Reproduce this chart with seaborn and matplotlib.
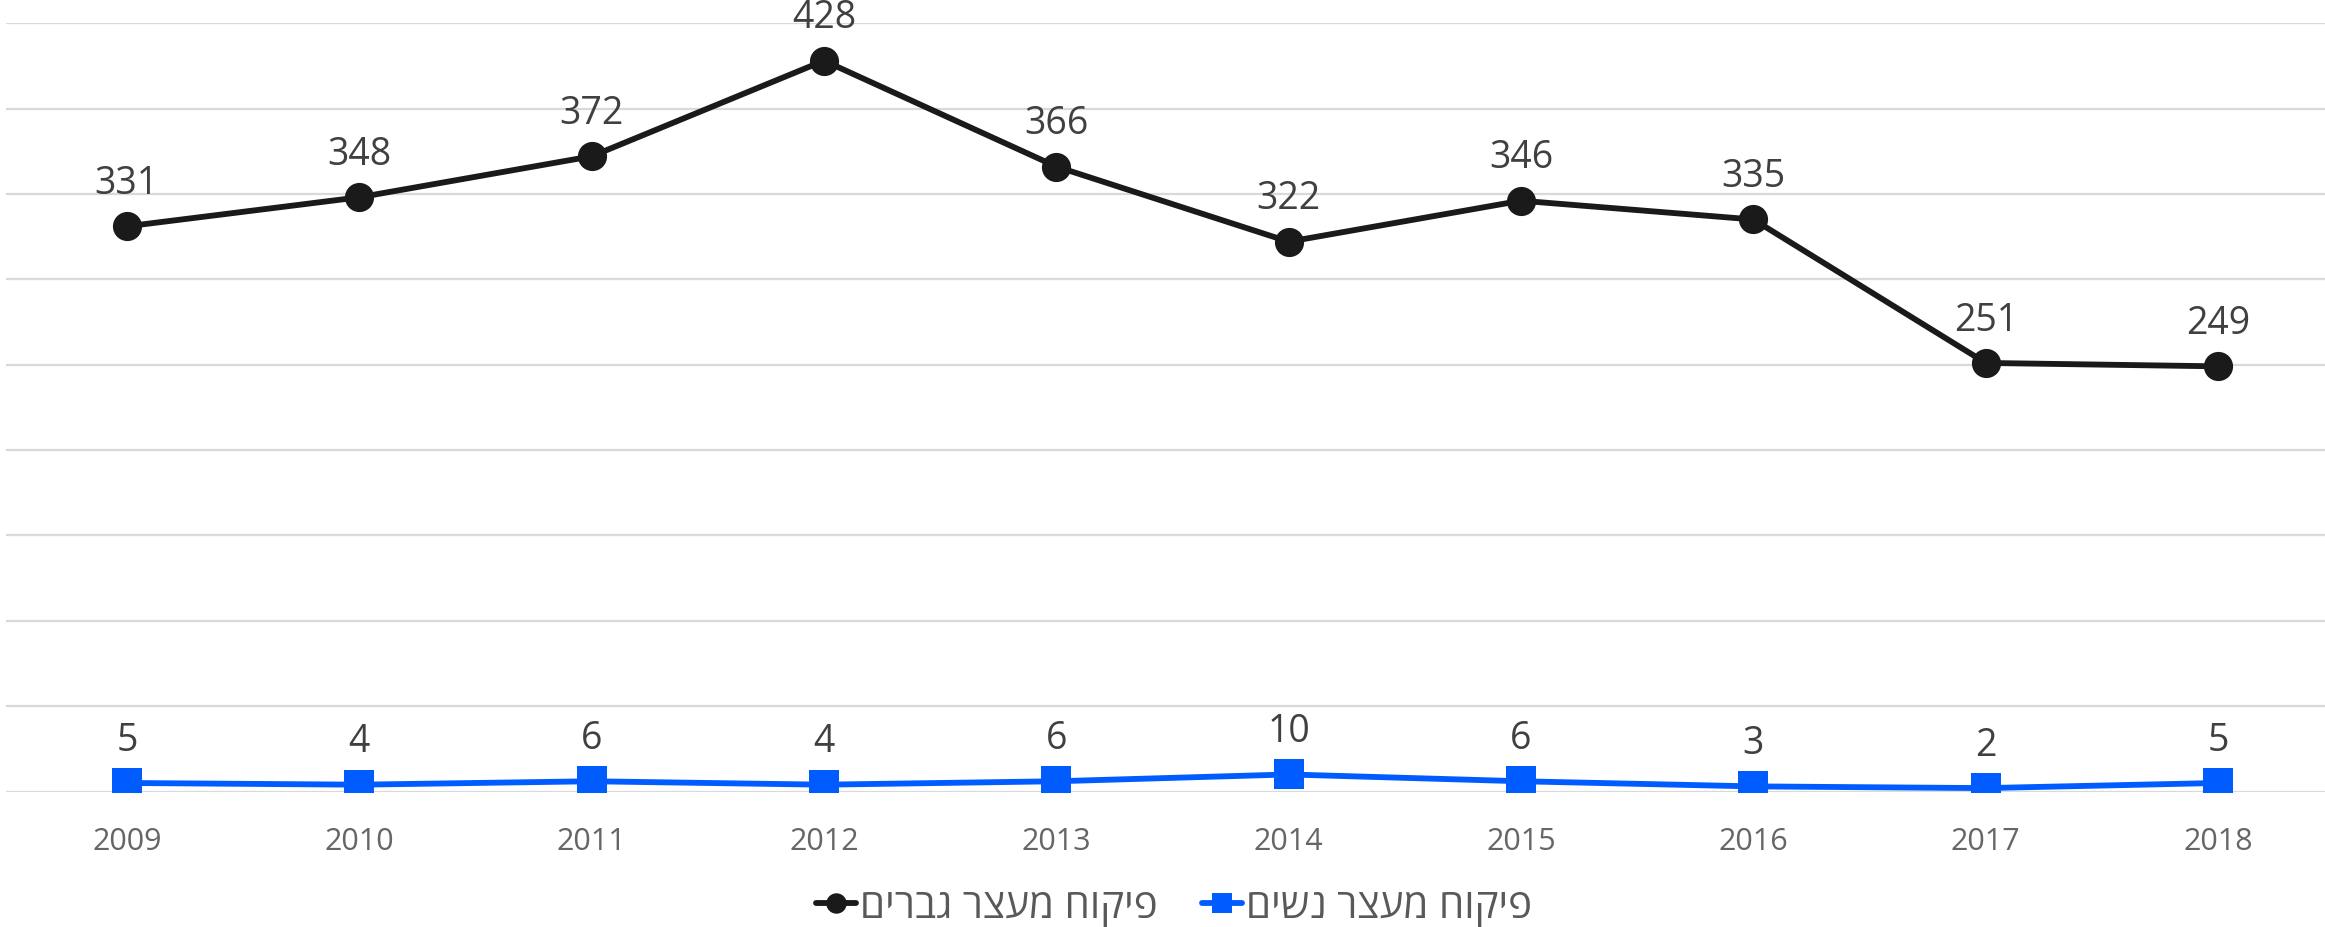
import pandas as pd
import seaborn as sns
import matplotlib.pyplot as plt

years = [2009, 2010, 2011, 2012, 2013, 2014, 2015, 2016, 2017, 2018]
men = [331, 348, 372, 428, 366, 322, 346, 335, 251, 249]
women = [5, 4, 6, 4, 6, 10, 6, 3, 2, 5]
# hebrew labels, reversed so they read right-to-left on screen
label_men = "פיקוח מעצר גברים"[::-1]
label_women = "פיקוח מעצר נשים"[::-1]

sns.set_style("white")
plt.rcParams['font.family'] = ['Open Sans', 'DejaVu Sans']

df = pd.DataFrame({"year": years, "men": men, "women": women})

fig = plt.figure(figsize=(23.25, 9.28), dpi=100)
ax = fig.add_axes([0.0026, 0.146, 0.9974, 0.828])

sns.lineplot(data=df, x="year", y="men", ax=ax, color="#1a1a1a", linewidth=4.2,
             marker="o", markersize=21, markeredgewidth=0, label=label_men)
sns.lineplot(data=df, x="year", y="women", ax=ax, color="#005cff", linewidth=4.2,
             marker="s", markersize=21, markeredgewidth=0, label=label_women)

for x, y in zip(years, men):
    ax.annotate(str(y), (x, y), xytext=(0, 24), textcoords="offset points",
                ha="center", va="baseline", fontsize=27, color="#404040")
for x, y in zip(years, women):
    ax.annotate(str(y), (x, y), xytext=(0, 24), textcoords="offset points",
                ha="center", va="baseline", fontsize=27, color="#404040")

ax.set_ylim(0, 450)
ax.set_yticks(range(0, 451, 50))
ax.set_xlim(2008.48, 2018.46)
ax.set_xticks(years)
ax.set_xticklabels([str(y) for y in years])
ax.tick_params(axis="x", labelsize=22, labelcolor="#666666", length=0, pad=25)
ax.tick_params(axis="y", length=0, labelleft=False)
ax.grid(axis="y", color="#d9d9d9", linewidth=1.6)
ax.set_axisbelow(True)
for s in ax.spines.values():
    s.set_visible(False)
ax.set_xlabel("")
ax.set_ylabel("")

ax.get_legend().remove()
h, l = ax.get_legend_handles_labels()
fig.legend(h, l, loc="center", bbox_to_anchor=(0.505, 0.022), ncol=2, frameon=False,
           fontsize=29, labelcolor="#595959", handlelength=1.0, handletextpad=0.1,
           columnspacing=1.1, markerscale=0.7)

fig.savefig("out.png", dpi=100)
